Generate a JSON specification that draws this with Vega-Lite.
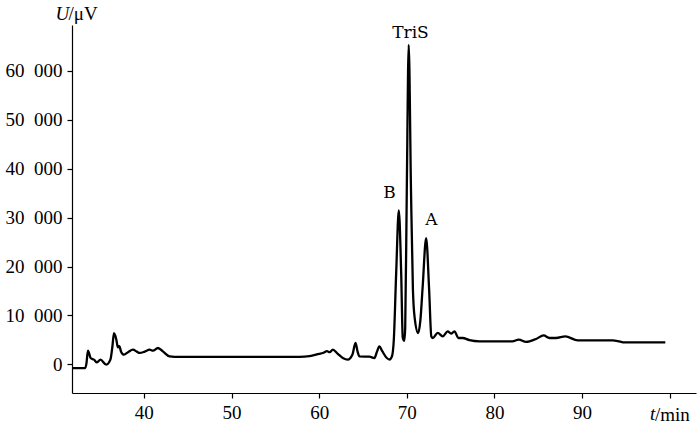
{
  "$schema": "https://vega.github.io/schema/vega-lite/v6.json",
  "width": 624,
  "height": 368,
  "autosize": {"type": "none"},
  "padding": {"left": 72, "top": 25, "right": 4, "bottom": 31},
  "background": "white",
  "config": {
    "view": {"stroke": null},
    "axis": {
      "grid": false,
      "domainColor": "#000",
      "tickColor": "#000",
      "labelColor": "#000",
      "titleColor": "#000",
      "labelFont": "Liberation Serif",
      "titleFont": "Liberation Serif",
      "labelFontSize": 19,
      "titleFontSize": 19,
      "titleFontWeight": "normal",
      "domainWidth": 1.2,
      "tickWidth": 1.2,
      "tickSize": 5
    }
  },
  "layer": [
    {
      "data": {
        "values": [
          {"t": 31.9, "v": -750}, {"t": 33.3, "v": -750}, {"t": 33.45, "v": 200},
          {"t": 33.62, "v": 2800}, {"t": 33.93, "v": 1300}, {"t": 34.31, "v": 960},
          {"t": 34.65, "v": 410}, {"t": 35.04, "v": 960}, {"t": 35.72, "v": -60},
          {"t": 36.18, "v": 960}, {"t": 36.4, "v": 3500}, {"t": 36.59, "v": 6400},
          {"t": 36.75, "v": 5800}, {"t": 36.86, "v": 5050}, {"t": 37.04, "v": 3470},
          {"t": 37.2, "v": 3700}, {"t": 37.4, "v": 2600}, {"t": 37.73, "v": 1980},
          {"t": 38.2, "v": 2500}, {"t": 38.76, "v": 3000}, {"t": 39.2, "v": 2600},
          {"t": 39.52, "v": 2330}, {"t": 40.1, "v": 2600}, {"t": 40.66, "v": 3000},
          {"t": 41.04, "v": 2800}, {"t": 41.61, "v": 3350}, {"t": 42.2, "v": 2600},
          {"t": 42.94, "v": 1630}, {"t": 43.5, "v": 1550}, {"t": 50, "v": 1550},
          {"t": 57.76, "v": 1550}, {"t": 58.9, "v": 1680}, {"t": 60.0, "v": 2150},
          {"t": 60.42, "v": 2330}, {"t": 60.9, "v": 2700}, {"t": 61.2, "v": 2500},
          {"t": 61.56, "v": 3000}, {"t": 62.1, "v": 2200}, {"t": 62.7, "v": 1300},
          {"t": 63.27, "v": 960}, {"t": 63.8, "v": 2000}, {"t": 64.15, "v": 4370},
          {"t": 64.4, "v": 2500}, {"t": 64.6, "v": 1630}, {"t": 65.74, "v": 1570},
          {"t": 66.3, "v": 1300}, {"t": 66.6, "v": 2600}, {"t": 66.87, "v": 3680},
          {"t": 67.2, "v": 2700}, {"t": 67.72, "v": 1300}, {"t": 68.03, "v": 1000},
          {"t": 68.3, "v": 1600}, {"t": 68.52, "v": 5040}, {"t": 68.79, "v": 18700},
          {"t": 69.09, "v": 31460}, {"t": 69.36, "v": 18700}, {"t": 69.54, "v": 5500},
          {"t": 69.72, "v": 4800}, {"t": 69.82, "v": 7500}, {"t": 70.0, "v": 35600},
          {"t": 70.22, "v": 65300}, {"t": 70.48, "v": 35600}, {"t": 70.7, "v": 15260},
          {"t": 70.9, "v": 9500}, {"t": 71.3, "v": 6400}, {"t": 71.55, "v": 9000},
          {"t": 71.8, "v": 15500}, {"t": 72.21, "v": 25780}, {"t": 72.55, "v": 15260},
          {"t": 72.8, "v": 5720}, {"t": 72.98, "v": 5390}, {"t": 73.53, "v": 6420},
          {"t": 74.1, "v": 5720}, {"t": 74.67, "v": 6740}, {"t": 75.06, "v": 6270},
          {"t": 75.44, "v": 6740}, {"t": 75.89, "v": 5390}, {"t": 76.38, "v": 5390},
          {"t": 77.15, "v": 4940}, {"t": 78.29, "v": 4700}, {"t": 82.05, "v": 4700},
          {"t": 82.77, "v": 5050}, {"t": 83.61, "v": 4580}, {"t": 84.75, "v": 5190},
          {"t": 85.62, "v": 5920}, {"t": 86.27, "v": 5390}, {"t": 87.03, "v": 5390},
          {"t": 88.09, "v": 5720}, {"t": 89.5, "v": 4900}, {"t": 93.49, "v": 4900},
          {"t": 94.25, "v": 4700}, {"t": 94.82, "v": 4490}, {"t": 99.5, "v": 4490}
        ]
      },
      "mark": {"type": "line", "color": "#000", "strokeWidth": 2.3, "interpolate": "monotone", "clip": false},
      "encoding": {
        "x": {
          "field": "t", "type": "quantitative",
          "scale": {"domain": [31.8, 103], "nice": false, "zero": false},
          "axis": {
            "values": [40, 50, 60, 70, 80, 90, 100],
            "labelExpr": "datum.value == 100 ? '' : datum.label",
            "labelFont": "Liberation Serif",
            "labelFontSize": 19,
            "labelPadding": 5,
            "title": "t",
            "titleFontStyle": "italic",
            "titleX": 577.5,
            "titleY": 26.7,
            "titleAlign": "left",
            "titleBaseline": "alphabetic"
          }
        },
        "y": {
          "field": "v", "type": "quantitative",
          "scale": {"domain": [-5850, 69350], "nice": false, "zero": false},
          "axis": {
            "values": [0, 10000, 20000, 30000, 40000, 50000, 60000],
            "labelExpr": "replace(format(datum.value, ','), ',', '\u00a0\u00a0')",
            "labelFont": "Liberation Serif",
            "labelFontSize": 19,
            "labelPadding": 5,
            "title": "U",
            "titleFontStyle": "italic",
            "titleAngle": 0,
            "titleX": -17,
            "titleY": -6,
            "titleAlign": "left",
            "titleBaseline": "alphabetic"
          }
        }
      }
    },
    {
      "data": {
        "values": [
          {"label": "TriS", "t": 70.42, "v": 66750},
          {"label": "B", "t": 68.03, "v": 34060},
          {"label": "A", "t": 72.82, "v": 28500}
        ]
      },
      "mark": {"type": "text", "font": "DejaVu Serif", "fontSize": 17, "baseline": "alphabetic", "align": "center", "color": "#000"},
      "encoding": {
        "x": {
          "field": "t", "type": "quantitative",
          "scale": {"domain": [31.8, 103], "nice": false, "zero": false},
          "axis": {
            "orient": "top", "domain": false, "ticks": false, "labels": false,
            "title": "/μV",
            "titleX": -4,
            "titleY": -6,
            "titleAlign": "left",
            "titleBaseline": "alphabetic"
          }
        },
        "y": {
          "field": "v", "type": "quantitative",
          "scale": {"domain": [-5850, 69350], "nice": false, "zero": false},
          "axis": {
            "orient": "right", "domain": false, "ticks": false, "labels": false,
            "title": "/min",
            "titleAngle": 0,
            "titleX": -41.5,
            "titleY": 395,
            "titleAlign": "left",
            "titleBaseline": "alphabetic"
          }
        },
        "text": {"field": "label"}
      }
    }
  ],
  "resolve": {"axis": {"x": "independent", "y": "independent"}}
}
